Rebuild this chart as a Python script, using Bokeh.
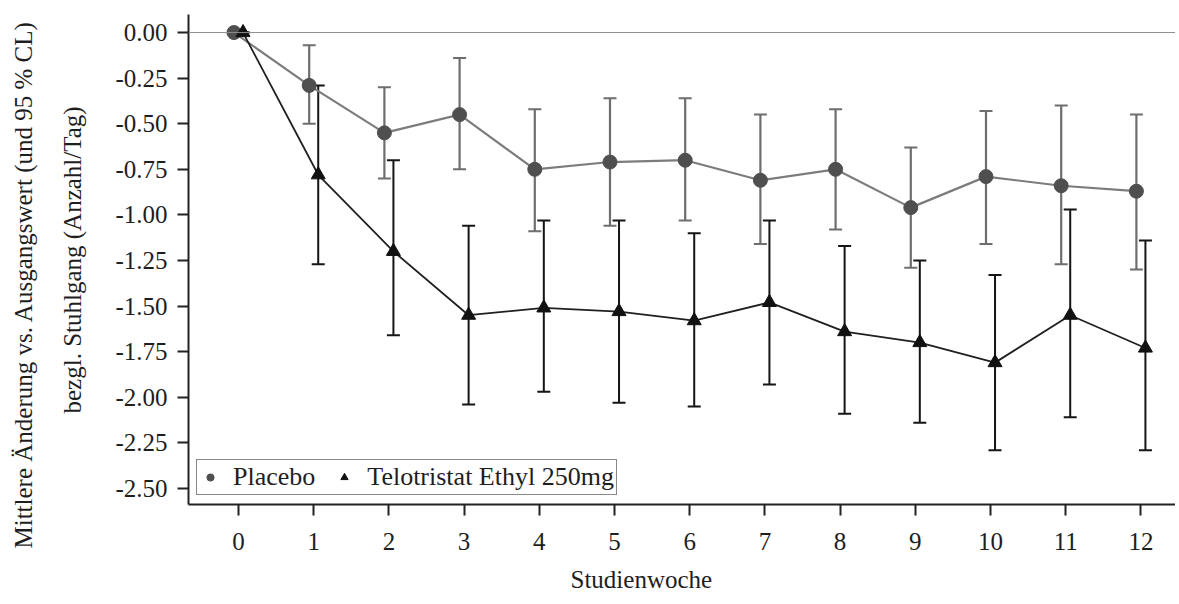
from bokeh.plotting import figure
from bokeh.models import (ColumnDataSource, Whisker, TeeHead, Span, FixedTicker,
                          NumeralTickFormatter, Legend, LegendItem, Title, Range1d)
from bokeh.embed import file_html
from bokeh.resources import INLINE

weeks = [0, 1, 2, 3, 4, 5, 6, 7, 8, 9, 10, 11, 12]
placebo_mean = [0.00, -0.29, -0.55, -0.45, -0.75, -0.71, -0.70, -0.81, -0.75, -0.96, -0.79, -0.84, -0.87]
placebo_upper = [0.00, -0.07, -0.30, -0.14, -0.42, -0.36, -0.36, -0.45, -0.42, -0.63, -0.43, -0.40, -0.45]
placebo_lower = [0.00, -0.50, -0.80, -0.75, -1.09, -1.06, -1.03, -1.16, -1.08, -1.29, -1.16, -1.27, -1.30]
telo_mean = [0.00, -0.78, -1.20, -1.55, -1.51, -1.53, -1.58, -1.48, -1.64, -1.70, -1.81, -1.55, -1.73]
telo_upper = [0.00, -0.29, -0.70, -1.06, -1.03, -1.03, -1.10, -1.03, -1.17, -1.25, -1.33, -0.97, -1.14]
telo_lower = [0.00, -1.27, -1.66, -2.04, -1.97, -2.03, -2.05, -1.93, -2.09, -2.14, -2.29, -2.11, -2.29]
y_ticks = [0.0, -0.25, -0.5, -0.75, -1.0, -1.25, -1.5, -1.75, -2.0, -2.25, -2.5]
series_names = ["Placebo", "Telotristat Ethyl 250mg"]
x_title = "Studienwoche"
y_title_line1 = "Mittlere Änderung vs. Ausgangswert (und 95 % CL)"
y_title_line2 = "bezgl. Stuhlgang (Anzahl/Tag)"

FONT = "Liberation Serif"
OFF = 0.06
TXT = "#1e1e1e"

p = figure(width=1175, height=604, output_backend="svg", toolbar_location=None,
           x_range=Range1d(-0.665, 12.46), y_range=Range1d(-2.588, 0.099),
           min_border_left=188, min_border_right=0, min_border_top=14, min_border_bottom=100)
p.outline_line_color = None
p.xgrid.visible = False
p.ygrid.visible = False
p.background_fill_color = "white"

p.add_layout(Span(location=0, dimension="width", line_color="#8c8c8c", line_width=1))

ps = ColumnDataSource(dict(x=[w - OFF for w in weeks], m=placebo_mean, u=placebo_upper, l=placebo_lower))
ts = ColumnDataSource(dict(x=[w + OFF for w in weeks], m=telo_mean, u=telo_upper, l=telo_lower))

p.add_layout(Whisker(source=ps, base="x", upper="u", lower="l", line_color="#6e6e6e", line_width=2.2,
                     upper_head=TeeHead(size=13, line_color="#6e6e6e", line_width=2),
                     lower_head=TeeHead(size=13, line_color="#6e6e6e", line_width=2)))
p.add_layout(Whisker(source=ts, base="x", upper="u", lower="l", line_color="#151515", line_width=2,
                     upper_head=TeeHead(size=13, line_color="#151515", line_width=2),
                     lower_head=TeeHead(size=13, line_color="#151515", line_width=2)))

p.line("x", "m", source=ps, line_color="#7c7c7c", line_width=2.2)
p.line("x", "m", source=ts, line_color="#202020", line_width=1.8)
r_p = p.scatter("x", "m", source=ps, marker="circle", size=14, fill_color="#4f4f4f", line_color="#4f4f4f")
r_t = p.scatter("x", "m", source=ts, marker="triangle", size=14, fill_color="#111111", line_color="#111111")

legend = Legend(items=[LegendItem(label=series_names[0], renderers=[r_p]),
                       LegendItem(label=series_names[1], renderers=[r_t])],
                orientation="horizontal", location=(8, 9), margin=0, padding=2, spacing=18,
                glyph_width=22, glyph_height=18, label_standoff=12, label_height=18,
                border_line_color="#111111", border_line_width=1.5,
                label_text_font=FONT, label_text_font_size="26px", label_text_color=TXT,
                background_fill_alpha=1)
p.add_layout(legend, "center")

p.xaxis.ticker = FixedTicker(ticks=weeks)
p.yaxis.ticker = FixedTicker(ticks=y_ticks)
p.yaxis.formatter = NumeralTickFormatter(format="0.00")
for ax in (p.xaxis[0], p.yaxis[0]):
    ax.axis_line_color = "#222222"
    ax.axis_line_width = 2
    ax.major_tick_line_color = "#222222"
    ax.major_tick_line_width = 2
    ax.major_tick_out = 11
    ax.major_tick_in = 0
    ax.minor_tick_line_color = None
    ax.major_label_text_font = FONT
    ax.major_label_text_font_size = "25px"
    ax.major_label_text_color = TXT
p.xaxis.major_label_standoff = 17
p.yaxis.major_label_standoff = 10

p.add_layout(Title(text=y_title_line2, align="left", offset=91, standoff=54,
                   text_font=FONT, text_font_size="25px", text_font_style="normal",
                   text_color=TXT), "left")
p.add_layout(Title(text=y_title_line1, align="left", offset=-44, standoff=-14,
                   text_font=FONT, text_font_size="25px", text_font_style="normal",
                   text_color=TXT), "left")

p.add_layout(Title(text=x_title, align="left", offset=382, standoff=22,
                   text_font=FONT, text_font_size="25px", text_font_style="normal",
                   text_color=TXT), "below")

open("out.html", "w").write(file_html(p, INLINE))
